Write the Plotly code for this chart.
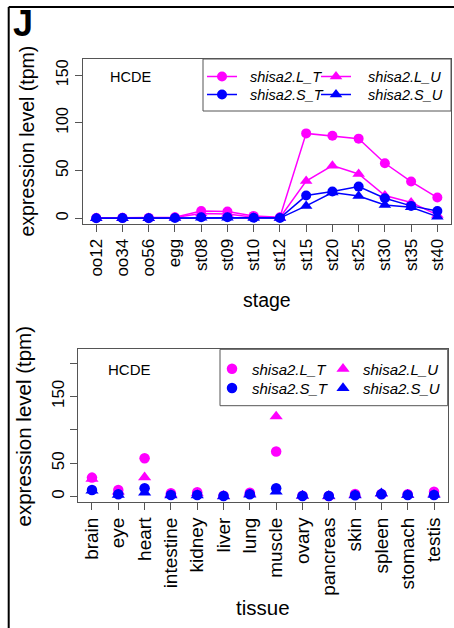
import plotly.graph_objects as go

# ---- data ----
stages = ["oo12", "oo34", "oo56", "egg", "st08", "st09", "st10", "st12",
          "st15", "st20", "st25", "st30", "st35", "st40"]
stage_L_T = [0.3, 0.5, 0.4, 1.0, 7.7, 7.0, 2.5, 1.0, 89, 86.5, 83.5, 57.7, 38.5, 21.7]
stage_L_U = [0.2, 0.4, 0.3, 0.8, 5.0, 4.5, 1.2, 0.6, 39, 55.2, 46.5, 23.8, 16.5, 3.5]
stage_S_T = [0.1, 0.2, 0.1, 0.3, 1.0, 1.0, 0.5, 0.3, 23.8, 28, 33.2, 21, 13, 7.7]
stage_S_U = [0.1, 0.1, 0.1, 0.2, 0.5, 0.5, 0.3, 0.2, 13, 27, 23.4, 14, 11.5, 1.7]

tissues = ["brain", "eye", "heart", "intestine", "kidney", "liver", "lung",
           "muscle", "ovary", "pancreas", "skin", "spleen", "stomach", "testis"]
tissue_L_T = [28.5, 10, 57.5, 5, 6.5, 1.5, 6, 67.5, 1.5, 1, 4, 4, 3.5, 7.5]
tissue_L_U = [26.5, 7.5, 29, 3.5, 5, 1, 4.5, 120, 1, 0.5, 3, 4.5, 2.5, 4]
tissue_S_T = [10, 3.5, 12.5, 2.5, 2.5, 1, 3.5, 12.5, 1, 1, 2, 3.5, 2.5, 2.5]
tissue_S_U = [9, 2.5, 6, 2, 2, 0.5, 3, 7.5, 1.5, 1, 2, 5, 2.5, 2.5]

series_names = ["shisa2.L_T", "shisa2.L_U", "shisa2.S_T", "shisa2.S_U"]
MAGENTA = "#ff00ff"
BLUE = "#0000ff"

W, H = 454, 628
FONT = "Liberation Sans, Arial, Helvetica, sans-serif"
AX = "#555555"


def px_x(v):
    return v / W


def px_y(v):
    return 1 - v / H


fig = go.Figure()

# ---- developmental stage panel (lines + markers) ----
# (values, colour, symbol, legend row, name padding, legend entry width)
stage_series = [
    (stage_L_T, MAGENTA, "circle", "legend", "\u00a0\u00a0", 69),
    (stage_L_U, MAGENTA, "triangle-up", "legend", "\u00a0\u00a0\u00a0", 88),
    (stage_S_T, BLUE, "circle", "legend2", "\u00a0\u00a0", 69),
    (stage_S_U, BLUE, "triangle-up", "legend2", "\u00a0\u00a0\u00a0", 88),
]
for name, (vals, col, sym, leg, pad, lw) in zip(series_names, stage_series):
    fig.add_trace(go.Scatter(
        x=stages, y=vals, mode="lines+markers", name=pad + name,
        line=dict(color=col, width=1.5),
        marker=dict(color=col, symbol=sym, size=10 if sym == "circle" else 11),
        xaxis="x", yaxis="y", legend=leg, legendwidth=lw, cliponaxis=False,
    ))

# ---- tissue panel (markers only) ----
tissue_series = [
    (tissue_L_T, MAGENTA, "circle", "legend3", 66),
    (tissue_L_U, MAGENTA, "triangle-up", "legend3", 80),
    (tissue_S_T, BLUE, "circle", "legend4", 66),
    (tissue_S_U, BLUE, "triangle-up", "legend4", 80),
]
for name, (vals, col, sym, leg, lw) in zip(series_names, tissue_series):
    fig.add_trace(go.Scatter(
        x=tissues, y=vals, mode="markers", name=name,
        marker=dict(color=col, symbol=sym, size=10.5 if sym == "circle" else 11.5),
        xaxis="x2", yaxis="y2", legend=leg, legendwidth=lw, cliponaxis=False,
    ))

axis_common = dict(
    showline=True, linecolor=AX, linewidth=1, mirror=True,
    ticks="outside", ticklen=7, tickcolor=AX, tickwidth=1,
    showgrid=False, zeroline=False,
)

top_dom_x = [px_x(82.6), px_x(451)]
top_dom_y = [px_y(224), px_y(59)]
bot_dom_x = [px_x(78.3), px_x(447.7)]
bot_dom_y = [px_y(502), px_y(349.3)]

fig.update_layout(
    width=W, height=H,
    margin=dict(l=0, r=0, t=0, b=0, autoexpand=False),
    paper_bgcolor="white", plot_bgcolor="white",
    font=dict(family=FONT, color="black"),
    xaxis=dict(axis_common, domain=top_dom_x, anchor="y", type="category",
               range=[-0.52, 13.52], tickangle=-90,
               tickfont=dict(family=FONT, size=17, color="black")),
    yaxis=dict(axis_common, domain=top_dom_y, anchor="x",
               range=[-6, 167], tickvals=[0, 50, 100, 150], tickangle=-90,
               tickfont=dict(family=FONT, size=16, color="black")),
    xaxis2=dict(axis_common, domain=bot_dom_x, anchor="y2", type="category",
                range=[-0.52, 13.52], tickangle=-90,
                tickfont=dict(family=FONT, size=19, color="black")),
    yaxis2=dict(axis_common, domain=bot_dom_y, anchor="x2",
                range=[-8, 220.5], tickvals=[0, 50, 100, 150, 200],
                ticktext=["0", "50", "", "150", ""], tickangle=-90,
                tickfont=dict(family=FONT, size=17, color="black")),
)

leg_common = dict(orientation="h", xanchor="left", yanchor="middle",
                  bgcolor="rgba(0,0,0,0)", borderwidth=0,
                  itemclick=False, itemdoubleclick=False)
fig.update_layout(
    legend=dict(leg_common, x=px_x(202), y=px_y(76.5),
                font=dict(family=FONT, size=14.5, style="italic")),
    legend2=dict(leg_common, x=px_x(202), y=px_y(94.5),
                 font=dict(family=FONT, size=14.5, style="italic")),
    legend3=dict(leg_common, x=px_x(212), y=px_y(369),
                 font=dict(family=FONT, size=15, style="italic")),
    legend4=dict(leg_common, x=px_x(212), y=px_y(388.3),
                 font=dict(family=FONT, size=15, style="italic")),
)

shapes = [
    # legend boxes
    dict(type="rect", xref="paper", yref="paper",
         x0=px_x(203), x1=px_x(451), y0=px_y(111), y1=px_y(59),
         line=dict(color=AX, width=1), fillcolor="white", layer="below"),
    dict(type="rect", xref="paper", yref="paper",
         x0=px_x(220), x1=px_x(447.7), y0=px_y(405.7), y1=px_y(349.3),
         line=dict(color=AX, width=1), fillcolor="white", layer="below"),
    # panel frame (left and top edges)
    dict(type="line", xref="paper", yref="paper",
         x0=px_x(8.7), x1=px_x(8.7), y0=-0.02, y1=px_y(7),
         line=dict(color="black", width=2)),
    dict(type="line", xref="paper", yref="paper",
         x0=px_x(8.7), x1=1.02, y0=px_y(7), y1=px_y(7),
         line=dict(color="black", width=2)),
]

annotations = [
    dict(text="<b>J</b>", x=px_x(11), y=px_y(24), xanchor="left", yanchor="middle",
         font=dict(family=FONT, size=36, color="black")),
    dict(text="HCDE", x=px_x(130), y=px_y(77.3), xanchor="center", yanchor="middle",
         font=dict(family=FONT, size=14.5, color="black")),
    dict(text="HCDE", x=px_x(129.5), y=px_y(369), xanchor="center", yanchor="middle",
         font=dict(family=FONT, size=15, color="black")),
    dict(text="stage", x=px_x(267), y=px_y(299.5), xanchor="center", yanchor="middle",
         font=dict(family=FONT, size=19.5, color="black")),
    dict(text="tissue", x=px_x(263), y=px_y(607.5), xanchor="center", yanchor="middle",
         font=dict(family=FONT, size=20.5, color="black")),
    dict(text="expression level (tpm)", x=px_x(26), y=px_y(141.5), textangle=-90,
         xanchor="center", yanchor="middle",
         font=dict(family=FONT, size=19.5, color="black")),
    dict(text="expression level (tpm)", x=px_x(22.5), y=px_y(426), textangle=-90,
         xanchor="center", yanchor="middle",
         font=dict(family=FONT, size=20.5, color="black")),
]
for a in annotations:
    a.update(xref="paper", yref="paper", showarrow=False)

fig.update_layout(shapes=shapes, annotations=annotations)

fig.write_html("out.html")
